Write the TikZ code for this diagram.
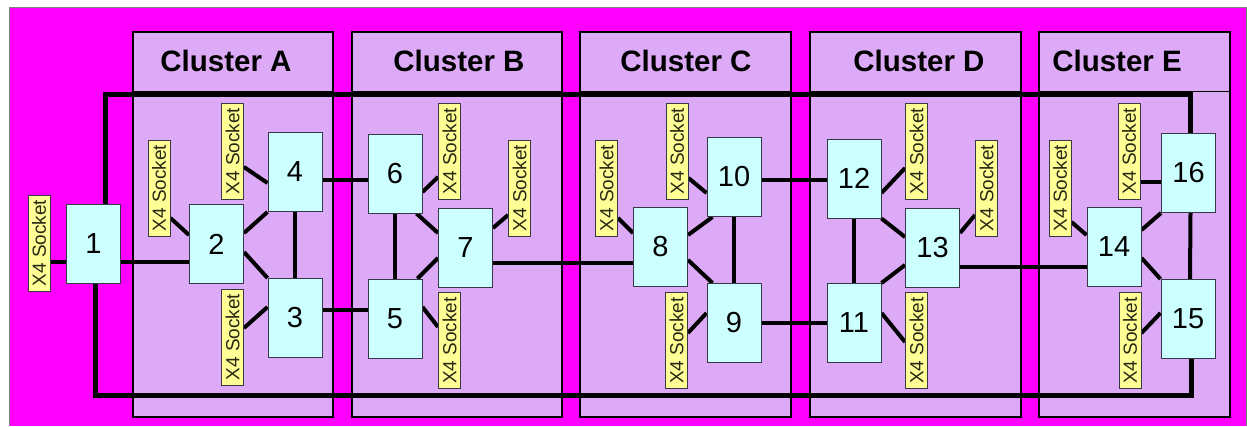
\documentclass[tikz,border=0pt]{standalone}
\usepackage{fontspec}
\setmainfont{Liberation Sans}
\definecolor{backmag}{RGB}{255,0,255}
\definecolor{clusterfill}{RGB}{221,170,247}
\definecolor{unitfill}{RGB}{204,255,255}
\definecolor{unitline}{RGB}{55,55,70}
\definecolor{sockfill}{RGB}{255,255,150}
\definecolor{socktext}{RGB}{40,40,20}
\pgfdeclarelayer{panels}
\pgfdeclarelayer{links}
\pgfsetlayers{panels,links,main}
\begin{document}
\begin{tikzpicture}[x=1pt,y=-1pt,
  clusterbox/.style={fill=clusterfill,draw=black,line width=1.2pt},
  headline/.style={draw=black,line width=1pt},
  title/.style={font=\bfseries\fontsize{29.5}{31}\selectfont,anchor=base,inner sep=0pt},
  unit/.style={draw=unitline,fill=unitfill,line width=1pt,minimum width=54pt,
    minimum height=79pt,inner sep=0pt,font=\fontsize{29}{30}\selectfont},
  socket/.style={draw=unitline,fill=sockfill,line width=0.9pt,minimum width=22pt,
    minimum height=96pt,inner sep=0pt,text=socktext,font=\fontsize{19}{20}\selectfont},
  link/.style={line width=4pt},
  bus/.style={line width=5pt}]
\useasboundingbox (0,0) rectangle (1247,426);

\begin{pgfonlayer}{panels}
% backdrop
\fill[backmag] (9,7.5) rectangle (1247,426);
\draw[gray,line width=1pt] (9,426) -- (9,7.5) -- (1246.5,7.5) -- (1246.5,426);
% cluster panels with their header rule
\foreach \xa/\xb in {133/333,352/562,580/791,810/1021,1039/1230}{
  \draw[clusterbox] (\xa,32) rectangle (\xb,417);
  \draw[headline] (\xa,91) -- (\xb,91);
}
\end{pgfonlayer}

\node[title] (tA) at (226,71) {Cluster A};
\node[title] (tB) at (459,71) {Cluster B};
\node[title] (tC) at (686,71) {Cluster C};
\node[title] (tD) at (919,71) {Cluster D};
\node[title] (tE) at (1117,71) {Cluster E};

% processing units
\node[unit] (n1)  at (93.5,244)   {1};
\node[unit] (n2)  at (216.5,244)  {2};
\node[unit] (n4)  at (295,172)    {4};
\node[unit] (n3)  at (295,318)    {3};
\node[unit] (n6)  at (395,173.5)  {6};
\node[unit] (n5)  at (395,318.5)  {5};
\node[unit] (n7)  at (465.5,248)  {7};
\node[unit] (n8)  at (660.5,247)  {8};
\node[unit] (n10) at (734,177)    {10};
\node[unit] (n9)  at (734,323)    {9};
\node[unit] (n12) at (854,178.5)  {12};
\node[unit] (n11) at (854,323)    {11};
\node[unit] (n13) at (932.5,247.5){13};
\node[unit] (n14) at (1114,246.5) {14};
\node[unit] (n16) at (1188.5,173) {16};
\node[unit] (n15) at (1188,319)   {15};

% sockets
\node[socket] (s0)  at (39,243)      {\rotatebox{90}{X4 Socket}};
\node[socket] (sA1) at (159,188)     {\rotatebox{90}{X4 Socket}};
\node[socket] (sA2) at (232.5,151)   {\rotatebox{90}{X4 Socket}};
\node[socket] (sA3) at (232.5,337)   {\rotatebox{90}{X4 Socket}};
\node[socket] (sB1) at (449.5,151)   {\rotatebox{90}{X4 Socket}};
\node[socket] (sB2) at (519.5,188)   {\rotatebox{90}{X4 Socket}};
\node[socket] (sB3) at (449.5,340.5) {\rotatebox{90}{X4 Socket}};
\node[socket] (sC1) at (606.5,188)   {\rotatebox{90}{X4 Socket}};
\node[socket] (sC2) at (677,151)     {\rotatebox{90}{X4 Socket}};
\node[socket] (sC3) at (676.5,340.5) {\rotatebox{90}{X4 Socket}};
\node[socket] (sD1) at (916.5,151)   {\rotatebox{90}{X4 Socket}};
\node[socket] (sD2) at (986.5,188)   {\rotatebox{90}{X4 Socket}};
\node[socket] (sD3) at (916.5,340.5) {\rotatebox{90}{X4 Socket}};
\node[socket] (sE1) at (1060,188)    {\rotatebox{90}{X4 Socket}};
\node[socket] (sE2) at (1129,151)    {\rotatebox{90}{X4 Socket}};
\node[socket] (sE3) at (1130,340.5)  {\rotatebox{90}{X4 Socket}};

% ring bus corners
\coordinate (busTL) at (105,94.5);
\coordinate (busTR) at (1190,94.5);
\coordinate (busBL) at (95,395.5);
\coordinate (busBR) at (1191,395.5);

\begin{pgfonlayer}{links}
% outer ring
\draw[bus] (busTL |- n1.north) -- (busTL) -- (busTR) -- (busTR |- n16.north);
\draw[bus] (busBL |- n1.south) -- (busBL) -- (busBR) -- (busBR |- n15.south);

% socket 1 and the chain between clusters
\draw[link] (s0.east |- 0,262) -- (n1.west |- 0,262);
\draw[link] (n1.east |- 0,262) -- (n2.west |- 0,262);
\draw[link] (n4.east |- 0,180) -- (n6.west |- 0,180);
\draw[link] (n3.east |- 0,310) -- (n5.west |- 0,310);
\draw[link] (n7.east |- 0,263) -- (n8.west |- 0,263);
\draw[link] (n10.east |- 0,180) -- (n12.west |- 0,180);
\draw[link] (n9.east |- 0,323) -- (n11.west |- 0,323);
\draw[link] (n13.east |- 0,267) -- (n14.west |- 0,267);

% cluster A
\draw[link] (sA1.east |- 0,218) -- (n2.west |- 0,235);
\draw[link] (sA2.east |- 0,167) -- (n4.west |- 0,183);
\draw[link] (sA3.east |- 0,328) -- (n3.west |- 0,307);
\draw[link] (n2.east |- 0,233) -- (n4.south west);
\draw[link] (n2.east |- 0,252) -- (n3.north west);
\draw[link] (n4.south) -- (n3.north);

% cluster B
\draw[link] (n6.east |- 0,192) -- (sB1.west |- 0,177);
\draw[link] (n7.east |- 0,228) -- (sB2.west |- 0,215);
\draw[link] (n5.east |- 0,307) -- (sB3.west |- 0,327);
\draw[link] ([xshift=-6pt]n6.south east) -- (n7.west |- 0,233);
\draw[link] ([xshift=-5pt]n5.north east) -- (n7.west |- 0,258);
\draw[link] (n6.south) -- (n5.north);

% cluster C
\draw[link] (sC1.east |- 0,218) -- (n8.west |- 0,233);
\draw[link] (sC2.east |- 0,178) -- (n10.west |- 0,193);
\draw[link] (sC3.east |- 0,333) -- (n9.west |- 0,313);
\draw[link] (n8.east |- 0,235) -- ([xshift=6pt]n10.south west);
\draw[link] (n8.east |- 0,260) -- ([xshift=6pt]n9.north west);
\draw[link] (n10.south) -- (n9.north);

% cluster D
\draw[link] (n12.east |- 0,193) -- (sD1.west |- 0,168);
\draw[link] (n13.east |- 0,233) -- (sD2.west |- 0,215);
\draw[link] (n11.east |- 0,313) -- (sD3.west |- 0,342);
\draw[link] (n12.south east) -- (n13.west |- 0,237);
\draw[link] (n11.north east) -- (n13.west |- 0,265);
\draw[link] (n12.south) -- (n11.north);

% cluster E
\draw[link] (sE1.east |- 0,222) -- (n14.west |- 0,235);
\draw[link] (sE2.east |- 0,182) -- (n16.west |- 0,182);
\draw[link] (sE3.east |- 0,333) -- (n15.west |- 0,313);
\draw[link] (n14.east |- 0,230) -- (n16.south west);
\draw[link] (n14.east |- 0,258) -- (n15.north west);
\draw[link] ([xshift=2pt]n16.south) -- ([xshift=2pt]n15.north);
\end{pgfonlayer}
\end{tikzpicture}
\end{document}
